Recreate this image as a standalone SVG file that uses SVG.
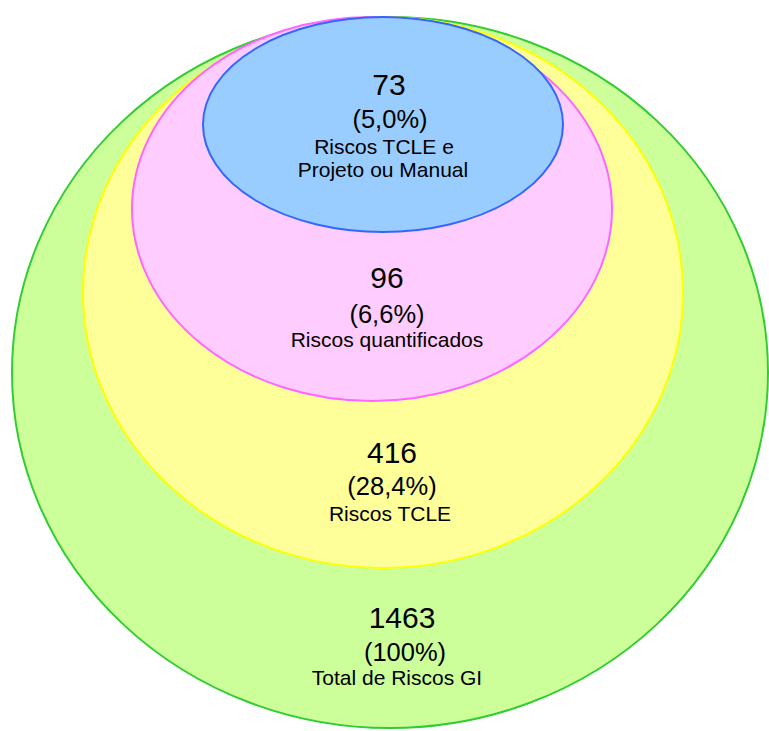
<svg xmlns="http://www.w3.org/2000/svg" width="769" height="731" viewBox="0 0 769 731">
<style>
.e{stroke-width:2}
text{font-family:"Liberation Sans",Arial,sans-serif;fill:#000;text-anchor:middle}
.n{font-size:30px}
.p{font-size:25.5px}
.l{font-size:21px}
</style>
<rect width="769" height="731" fill="#fff"/>
<g id="total">
<ellipse class="e" cx="390" cy="372.5" rx="378" ry="355.5" fill="#ccff99" stroke="#33cc33"/>
<text class="n" x="402" y="628">1463</text>
<text class="p" x="405" y="661">(100%)</text>
<text class="l" x="397" y="685">Total de Riscos GI</text>
</g>
<g id="tcle">
<ellipse class="e" cx="383" cy="292.5" rx="300" ry="275.5" fill="#ffff99" stroke="#ffff00"/>
<text class="n" x="392" y="463">416</text>
<text class="p" x="392" y="495">(28,4%)</text>
<text class="l" x="390" y="521">Riscos TCLE</text>
</g>
<g id="quant">
<ellipse class="e" cx="372" cy="209" rx="240" ry="192" fill="#ffccff" stroke="#ff66ff"/>
<text class="n" x="387" y="288">96</text>
<text class="p" x="387" y="323">(6,6%)</text>
<text class="l" x="387" y="347">Riscos quantificados</text>
</g>
<g id="projeto">
<ellipse class="e" cx="383" cy="124.5" rx="180" ry="107.5" fill="#99ccff" stroke="#3366ff"/>
<text class="n" x="389" y="95">73</text>
<text class="p" x="390" y="128">(5,0%)</text>
<text class="l" x="384" y="154">Riscos TCLE e</text>
<text class="l" x="383" y="177">Projeto ou Manual</text>
</g>
<g id="connectors"></g>
</svg>
